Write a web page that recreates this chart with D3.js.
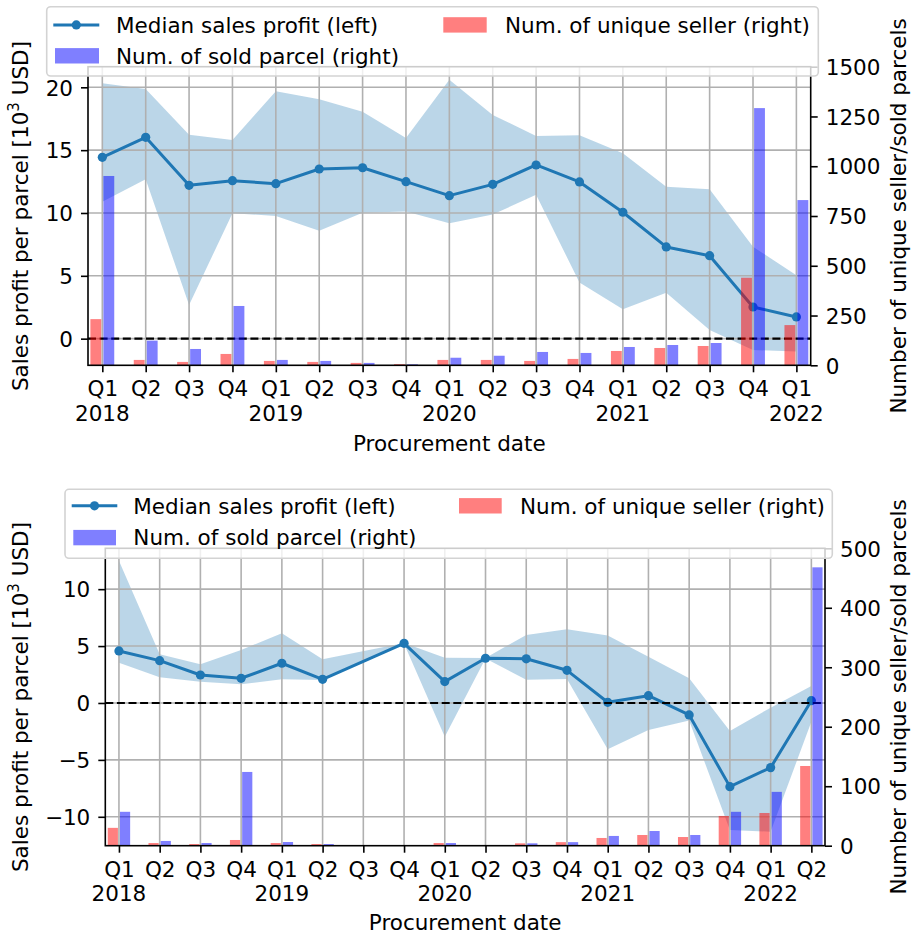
<!DOCTYPE html>
<html><head><meta charset="utf-8">
<script src="https://cdn.jsdelivr.net/npm/d3@7"></script>
<style>body{margin:0;background:#fff} text{font-family:"DejaVu Sans",sans-serif;fill:#000}</style>
</head><body><svg id="c" width="912" height="939"></svg>
<script>
// ---------- DATA ----------
const topQuarters = ["Q1","Q2","Q3","Q4","Q1","Q2","Q3","Q4","Q1","Q2","Q3","Q4","Q1","Q2","Q3","Q4","Q1"];
const topYears    = ["2018","","","","2019","","","","2020","","","","2021","","","","2022"];
const topMedian   = [14.43,16.02,12.2,12.57,12.33,13.5,13.6,12.49,11.38,12.28,13.82,12.47,10.06,7.3,6.6,2.52,1.73];
const topUpper    = [20.32,19.86,16.23,15.81,19.68,19.05,18.06,15.96,20.6,17.8,16.13,16.18,14.75,12.09,11.89,7.32,5.04];
const topLower    = [10.9,12.68,2.68,9.98,9.76,8.59,10.02,10.12,9.18,9.88,11.45,4.46,2.34,3.66,0.69,-0.9,-1.03];
const topSellers  = [232,27,17,57,22,17,12,6,27,27,22,32,72,87,97,440,202];
const topParcels  = [951,124,82,298,27,22,12,5,38,48,67,62,92,102,112,1292,830];
const topLeftTicks  = [0,5,10,15,20];
const topRightTicks = [0,250,500,750,1000,1250,1500];

const botQuarters = ["Q1","Q2","Q3","Q4","Q1","Q2","Q3","Q4","Q1","Q2","Q3","Q4","Q1","Q2","Q3","Q4","Q1","Q2"];
const botYears    = ["2018","","","","2019","","","","2020","","","","2021","","","","2022",""];
const botMedian   = [4.57,3.72,2.46,2.17,3.49,2.08,null,5.24,1.88,3.93,3.88,2.87,0.06,0.64,-1.05,-7.35,-5.68,0.2];
const botUpper    = [12.5,4.28,3.4,4.66,6.12,3.84,null,5.28,3.98,3.96,5.98,6.47,5.92,4.07,2.17,-2.46,-0.41,1.49];
const botLower    = [3.54,2.26,1.87,1.64,2.08,2.02,null,5.2,-2.96,3.9,2.05,2.11,-4.07,-2.37,-1.55,-11.16,-11.31,-1.64];
const botSellers  = [30,4.5,2.8,9.6,4.5,2.8,0,1,4.5,1,4,6,13,18,14.6,50,55,134];
const botParcels  = [57,8,4.5,124,6.2,2.8,0,1,4.5,1,4,6,16.4,24.7,18,57,90.5,468];
const botLeftTicks  = [-10,-5,0,5,10];
const botRightTicks = [0,100,200,300,400,500];

const legendLabels = ["Median sales profit (left)","Num. of unique seller (right)","Num. of sold parcel (right)"];
const xLabel = "Procurement date";
const yRightLabel = "Number of unique seller/sold parcels";

// ---------- DRAW ----------
const FS = 21.5;
const svg = d3.select("#c");
const C_LINE = "#1f77b4";

function drawPanel(p, id) {
  const g = svg.append("g");
  const n = p.quarters.length;
  const idx = d3.range(n);
  const x = d3.scaleLinear().domain(p.xDomain).range([p.L, p.R]);
  const yL = d3.scaleLinear().domain(p.yLDomain).range([p.B, p.T]);
  const yR = d3.scaleLinear().domain(p.yRDomain).range([p.B, p.T]);

  svg.append("clipPath").attr("id","clip"+id).append("rect")
    .attr("x",p.L).attr("y",p.T).attr("width",p.R-p.L).attr("height",p.B-p.T);
  const plot = g.append("g").attr("clip-path","url(#clip"+id+")");

  const pts = idx.filter(i => p.median[i] != null);
  // band
  plot.append("path").datum(pts)
    .attr("d", d3.area().x(i=>x(i)).y0(i=>yL(p.lower[i])).y1(i=>yL(p.upper[i])))
    .attr("fill", C_LINE).attr("fill-opacity", 0.3);
  // grid
  plot.append("g").selectAll("line").data(idx).join("line")
    .attr("x1",i=>x(i)).attr("x2",i=>x(i)).attr("y1",p.T).attr("y2",p.B)
    .attr("stroke","#b0b0b0").attr("stroke-width",1.6);
  plot.append("g").selectAll("line").data(p.leftTicks).join("line")
    .attr("x1",p.L).attr("x2",p.R).attr("y1",d=>yL(d)).attr("y2",d=>yL(d))
    .attr("stroke","#b0b0b0").attr("stroke-width",1.6);
  // median line
  plot.append("path").datum(pts)
    .attr("d", d3.line().x(i=>x(i)).y(i=>yL(p.median[i])))
    .attr("fill","none").attr("stroke",C_LINE).attr("stroke-width",3).attr("stroke-linejoin","round");
  plot.append("g").selectAll("circle").data(pts).join("circle")
    .attr("cx",i=>x(i)).attr("cy",i=>yL(p.median[i])).attr("r",4.6).attr("fill",C_LINE);
  // zero line
  plot.append("line").attr("x1",p.L).attr("x2",p.R).attr("y1",yL(0)).attr("y2",yL(0))
    .attr("stroke","#000").attr("stroke-width",2.1).attr("stroke-dasharray","8,3.6");
  // bars
  const bw = 0.25, off = 0.15;
  const bwPx = x(bw) - x(0);
  plot.append("g").selectAll("rect").data(idx).join("rect")
    .attr("x",i=>x(i-off-bw/2)).attr("width",bwPx)
    .attr("y",i=>yR(p.sellers[i])).attr("height",i=>yR(0)-yR(p.sellers[i]))
    .attr("fill","#ff0000").attr("fill-opacity",0.5);
  plot.append("g").selectAll("rect").data(idx).join("rect")
    .attr("x",i=>x(i+off-bw/2)).attr("width",bwPx)
    .attr("y",i=>yR(p.parcels[i])).attr("height",i=>yR(0)-yR(p.parcels[i]))
    .attr("fill","#0000ff").attr("fill-opacity",0.5);

  // axes
  const styleAxis = a => {
    a.select(".domain").remove();
    a.selectAll(".tick line").attr("stroke","#000").attr("stroke-width",1.6);
    a.selectAll("text").attr("font-size",FS).attr("font-family","DejaVu Sans").attr("fill","#000");
    a.attr("font-size",null).attr("font-family",null);
  };
  g.append("g").attr("transform",`translate(0,${p.B})`)
    .call(d3.axisBottom(x).tickValues(idx).tickFormat(i=>p.quarters[i]).tickSize(7))
    .call(styleAxis)
    .call(a=>a.selectAll("text").attr("dy",null).attr("y",31.2));
  g.append("g").selectAll("text").data(idx.filter(i=>p.years[i])).join("text")
    .attr("x",i=>x(i)).attr("y",p.B+55.2).attr("text-anchor","middle").attr("font-size",FS)
    .text(i=>p.years[i]);
  g.append("g").attr("transform",`translate(${p.L},0)`)
    .call(d3.axisLeft(yL).tickValues(p.leftTicks).tickFormat(d=>d<0?"\u2212"+Math.abs(d):String(d)).tickSize(7).tickPadding(8))
    .call(styleAxis).call(a=>a.selectAll("text").attr("dy","0.36em"));
  g.append("g").attr("transform",`translate(${p.R},0)`)
    .call(d3.axisRight(yR).tickValues(p.rightTicks).tickFormat(d3.format("d")).tickSize(7).tickPadding(8))
    .call(styleAxis).call(a=>a.selectAll("text").attr("dy","0.36em"));
  // spines
  g.append("rect").attr("x",p.L).attr("y",p.T).attr("width",p.R-p.L).attr("height",p.B-p.T)
    .attr("fill","none").attr("stroke","#000").attr("stroke-width",1.6);

  // labels
  g.append("text").attr("x",(p.L+p.R)/2).attr("y",p.B+p.xLabelOff).attr("text-anchor","middle")
    .attr("font-size",FS).text(xLabel);
  const yl = g.append("text").attr("transform",`translate(28.3,${(p.T+p.B)/2}) rotate(-90)`)
    .attr("text-anchor","middle").attr("font-size",FS);
  yl.append("tspan").text("Sales profit per parcel [10");
  yl.append("tspan").attr("font-size",FS*0.7).attr("dy",-FS*0.42).text("3");
  yl.append("tspan").attr("dy",FS*0.42).text(" USD]");
  g.append("text").attr("transform",`translate(906,${(p.T+p.B)/2}) rotate(-90)`)
    .attr("text-anchor","middle").attr("font-size",FS).text(yRightLabel);

  // legend
  const lg = p.legend;
  const L = g.append("g");
  L.append("rect").attr("x",lg.x).attr("y",lg.y).attr("width",lg.w).attr("height",lg.h).attr("rx",4)
    .attr("fill","#fff").attr("fill-opacity",0.8).attr("stroke","#d3d3d3").attr("stroke-width",1.6);
  L.append("line").attr("x1",lg.h1[0]).attr("x2",lg.h1[1]).attr("y1",lg.r1).attr("y2",lg.r1)
    .attr("stroke",C_LINE).attr("stroke-width",3);
  L.append("circle").attr("cx",(lg.h1[0]+lg.h1[1])/2).attr("cy",lg.r1).attr("r",4.6).attr("fill",C_LINE);
  L.append("text").attr("x",lg.t1).attr("y",lg.r1+7.8).attr("font-size",FS).text(legendLabels[0]);
  L.append("rect").attr("x",lg.p1[0]).attr("width",lg.p1[1]-lg.p1[0]).attr("y",lg.r2-7.7).attr("height",15.4)
    .attr("fill","#0000ff").attr("fill-opacity",0.5);
  L.append("text").attr("x",lg.t1).attr("y",lg.r2+7.8).attr("font-size",FS).text(legendLabels[2]);
  L.append("rect").attr("x",lg.p2[0]).attr("width",lg.p2[1]-lg.p2[0]).attr("y",lg.r1-7.7).attr("height",15.4)
    .attr("fill","#ff0000").attr("fill-opacity",0.5);
  L.append("text").attr("x",lg.t2).attr("y",lg.r1+7.8).attr("font-size",FS).text(legendLabels[1]);
}

drawPanel({
  quarters: topQuarters, years: topYears, median: topMedian, upper: topUpper, lower: topLower,
  sellers: topSellers, parcels: topParcels, leftTicks: topLeftTicks, rightTicks: topRightTicks,
  L: 88, R: 810.7, T: 66.7, B: 365.3,
  xDomain: [-0.33, 16.33], yLDomain: [-2.12, 21.64], yRDomain: [0, 1500],
  xLabelOff: 85.4,
  legend: {x:46.7, y:6.7, w:771.6, h:69.3, r1:24.9, r2:55.8, h1:[53.3,99.3], p1:[55,99], t1:116, p2:[443.3,486.7], t2:505}
}, 1);

drawPanel({
  quarters: botQuarters, years: botYears, median: botMedian, upper: botUpper, lower: botLower,
  sellers: botSellers, parcels: botParcels, leftTicks: botLeftTicks, rightTicks: botRightTicks,
  L: 105.3, R: 825, T: 548.3, B: 845.7,
  xDomain: [-0.335, 17.335], yLDomain: [-12.54, 13.59], yRDomain: [0, 500],
  xLabelOff: 84.3,
  legend: {x:65, y:489.3, w:767.3, h:69, r1:505.8, r2:537.6, h1:[71.7,117.3], p1:[73.3,116], t1:133.3, p2:[459,501.7], t2:520}
}, 2);
</script></body></html>
